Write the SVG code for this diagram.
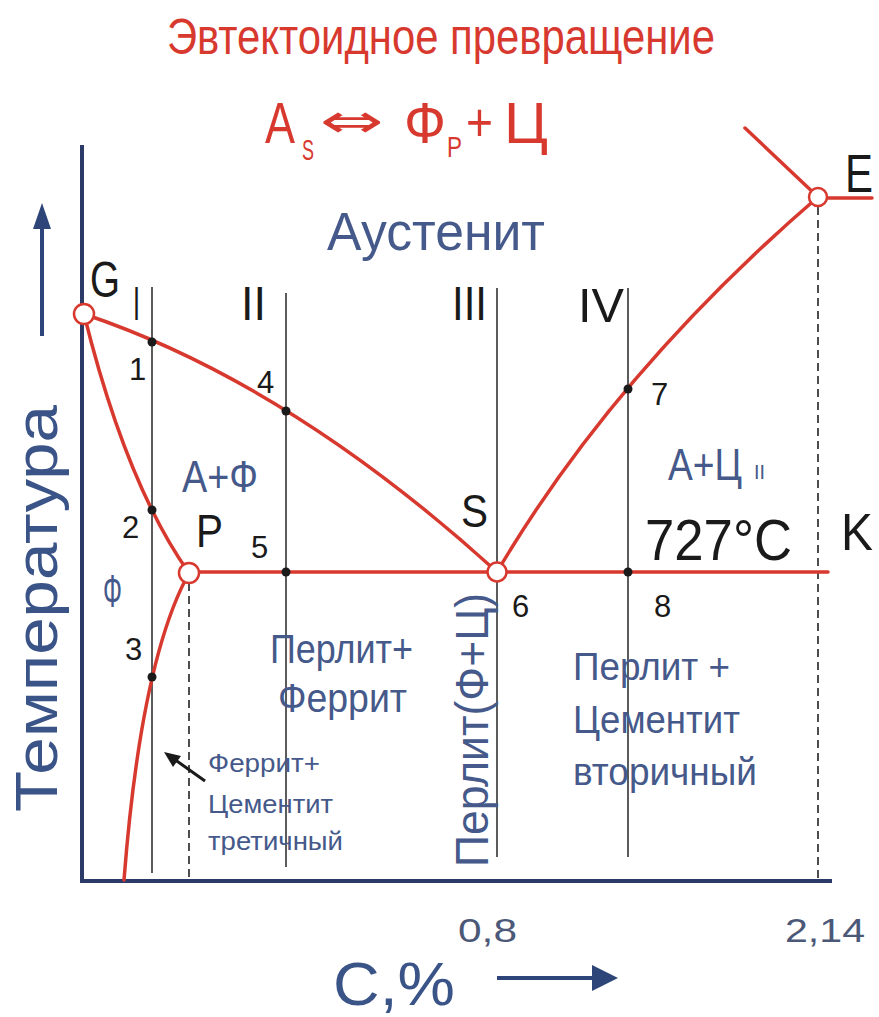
<svg xmlns="http://www.w3.org/2000/svg" width="879" height="1017" viewBox="0 0 879 1017">
<defs>
<style>
.red{fill:none;stroke:#d8392f;stroke-width:3.5;stroke-linecap:round}
.thin{fill:none;stroke:#333;stroke-width:1.6}
.dash{fill:none;stroke:#222;stroke-width:1.6;stroke-dasharray:8 5}
.axis{fill:none;stroke:#2b3a67;stroke-width:4}
.node{fill:#fff;stroke:#d8392f;stroke-width:2.5}
.dot{fill:#1a1a1a}
.t{font-family:"Liberation Sans",Arial,sans-serif}
.rt{fill:#d8392f}
.bl{fill:#45598a}
.bk{fill:#1a1a1a}
</style>
</defs>
<rect width="879" height="1017" fill="#fff"/>
<g id="title">
<text class="t rt" x="167" y="54" font-size="50" textLength="548" lengthAdjust="spacingAndGlyphs">Эвтектоидное превращение</text>
<text class="t rt" x="265" y="143" font-size="58" textLength="30" lengthAdjust="spacingAndGlyphs">А</text>
<text class="t rt" x="302" y="160" font-size="30" textLength="12" lengthAdjust="spacingAndGlyphs">S</text>
<text class="rt" x="320" y="137" font-size="46" font-family="DejaVu Sans,sans-serif" textLength="64" lengthAdjust="spacingAndGlyphs">⇔</text>
<text class="t rt" x="404" y="143" font-size="58" textLength="42" lengthAdjust="spacingAndGlyphs">Ф</text>
<text class="t rt" x="447" y="157" font-size="30" textLength="15" lengthAdjust="spacingAndGlyphs">P</text>
<text class="t rt" x="466" y="141" font-size="54" textLength="27" lengthAdjust="spacingAndGlyphs">+</text>
<text class="t rt" x="504" y="143" font-size="58" textLength="44" lengthAdjust="spacingAndGlyphs">Ц</text>
</g>
<g id="axes">
<line class="axis" x1="82" y1="145" x2="82" y2="883"/>
<line class="axis" x1="80" y1="881" x2="832" y2="881"/>
<line x1="42" y1="336" x2="42" y2="222" stroke="#2d4578" stroke-width="4"/>
<polygon points="42,203 33,229 51,229" fill="#2d4578"/>
<line x1="497" y1="978" x2="596" y2="978" stroke="#2d4578" stroke-width="4"/>
<polygon points="618,978 592,965 592,991" fill="#2d4578"/>
<text class="t" fill="#3b5488" font-size="60" transform="translate(57,812) rotate(-90)" textLength="407" lengthAdjust="spacingAndGlyphs">Температура</text>
<text class="t" fill="#3b5488" x="333" y="1005" font-size="62" textLength="122" lengthAdjust="spacingAndGlyphs">С,%</text>
<text class="t" fill="#4b5878" x="458" y="942" font-size="34" textLength="59" lengthAdjust="spacingAndGlyphs">0,8</text>
<text class="t" fill="#4b5878" x="785" y="942" font-size="34" textLength="80" lengthAdjust="spacingAndGlyphs">2,14</text>
</g>
<g id="connectors">
<line class="thin" x1="152" y1="287" x2="152" y2="873"/>
<line class="thin" x1="286" y1="293" x2="286" y2="867"/>
<line class="thin" x1="497" y1="288" x2="497" y2="857"/>
<line class="thin" x1="628" y1="288" x2="628" y2="857"/>
<line class="dash" x1="189" y1="583" x2="189" y2="879"/>
<line class="dash" x1="818" y1="207" x2="818" y2="879"/>
<path class="red" d="M84,314 Q289.5,383 497,572"/>
<path class="red" d="M84,314 Q126,484 189,573"/>
<path class="red" d="M189,573 Q141,660 124,880"/>
<line class="red" x1="189" y1="572" x2="828" y2="572"/>
<path class="red" d="M497,572 Q615,372 818,197"/>
<line class="red" x1="745" y1="128" x2="818" y2="197"/>
<line class="red" x1="818" y1="198" x2="872" y2="198"/>
<line x1="205" y1="781" x2="174" y2="759" stroke="#1a1a1a" stroke-width="3"/>
<polygon points="164,752 181,756 173,767" fill="#1a1a1a"/>
</g>
<g id="points">
<circle class="dot" cx="152" cy="342" r="4.5"/>
<circle class="dot" cx="286" cy="411" r="4.5"/>
<circle class="dot" cx="152" cy="510" r="4.5"/>
<circle class="dot" cx="286" cy="572" r="4.5"/>
<circle class="dot" cx="152" cy="677" r="4.5"/>
<circle class="dot" cx="628" cy="389" r="4.5"/>
<circle class="dot" cx="628" cy="572" r="4.5"/>
<text class="t bk" x="129" y="380" font-size="31">1</text>
<text class="t bk" x="257" y="393" font-size="31">4</text>
<text class="t bk" x="122" y="538" font-size="31">2</text>
<text class="t bk" x="251" y="558" font-size="31">5</text>
<text class="t bk" x="125" y="660" font-size="31">3</text>
<text class="t bk" x="651" y="405" font-size="31">7</text>
<text class="t bk" x="512" y="617" font-size="31">6</text>
<text class="t bk" x="654" y="617" font-size="31">8</text>
</g>
<g id="node-G">
<circle class="node" cx="84" cy="314" r="10"/>
<text class="t bk" x="90" y="297" font-size="50" textLength="30" lengthAdjust="spacingAndGlyphs">G</text>
</g>
<g id="node-P">
<circle class="node" cx="189" cy="573" r="10"/>
<text class="t bk" x="196" y="547" font-size="46" textLength="27" lengthAdjust="spacingAndGlyphs">P</text>
</g>
<g id="node-S">
<circle class="node" cx="497" cy="572" r="9.5"/>
<text class="t bk" x="461" y="527" font-size="46" textLength="27" lengthAdjust="spacingAndGlyphs">S</text>
</g>
<g id="node-E">
<circle class="node" cx="818" cy="197" r="9"/>
<text class="t bk" x="845" y="192" font-size="54" textLength="28" lengthAdjust="spacingAndGlyphs">E</text>
</g>
<g id="node-K">
<text class="t bk" x="841" y="550" font-size="51" textLength="32" lengthAdjust="spacingAndGlyphs">K</text>
<text class="t bk" x="645" y="560" font-size="58" textLength="147" lengthAdjust="spacingAndGlyphs">727°C</text>
</g>
<g id="lines-labels">
<text class="t bk" x="133" y="320" font-size="48" textLength="7" lengthAdjust="spacingAndGlyphs">I</text>
<text class="t bk" x="241" y="320" font-size="48" textLength="25" lengthAdjust="spacingAndGlyphs">II</text>
<text class="t bk" x="452" y="320" font-size="48" textLength="35" lengthAdjust="spacingAndGlyphs">III</text>
<text class="t bk" x="578" y="322" font-size="48" textLength="46" lengthAdjust="spacingAndGlyphs">IV</text>
</g>
<g id="regions">
<text class="t bl" x="327" y="250" font-size="54" textLength="218" lengthAdjust="spacingAndGlyphs">Аустенит</text>
<text class="t bl" x="182" y="492" font-size="44" textLength="76" lengthAdjust="spacingAndGlyphs">А+Ф</text>
<text class="t bl" x="668" y="480" font-size="44" textLength="74" lengthAdjust="spacingAndGlyphs">А+Ц</text>
<text class="t bl" x="754" y="479" font-size="20" textLength="11" lengthAdjust="spacingAndGlyphs">II</text>
<text class="t bl" x="103" y="607" font-size="46" textLength="19" lengthAdjust="spacingAndGlyphs">Ф</text>
<text class="t bl" x="270" y="663" font-size="40" textLength="143" lengthAdjust="spacingAndGlyphs">Перлит+</text>
<text class="t bl" x="278" y="712" font-size="40" textLength="129" lengthAdjust="spacingAndGlyphs">Феррит</text>
<text class="t bl" x="573" y="680" font-size="38" textLength="157" lengthAdjust="spacingAndGlyphs">Перлит +</text>
<text class="t bl" x="573" y="733" font-size="38" textLength="167" lengthAdjust="spacingAndGlyphs">Цементит</text>
<text class="t bl" x="573" y="785" font-size="38" textLength="184" lengthAdjust="spacingAndGlyphs">вторичный</text>
<text class="t bl" font-size="46" transform="translate(488,867) rotate(-90)" textLength="274" lengthAdjust="spacingAndGlyphs">Перлит(Ф+Ц)</text>
<text class="t bl" x="208" y="772" font-size="25" textLength="112" lengthAdjust="spacingAndGlyphs">Феррит+</text>
<text class="t bl" x="208" y="813" font-size="25" textLength="125" lengthAdjust="spacingAndGlyphs">Цементит</text>
<text class="t bl" x="208" y="850" font-size="25" textLength="135" lengthAdjust="spacingAndGlyphs">третичный</text>
</g>
</svg>
